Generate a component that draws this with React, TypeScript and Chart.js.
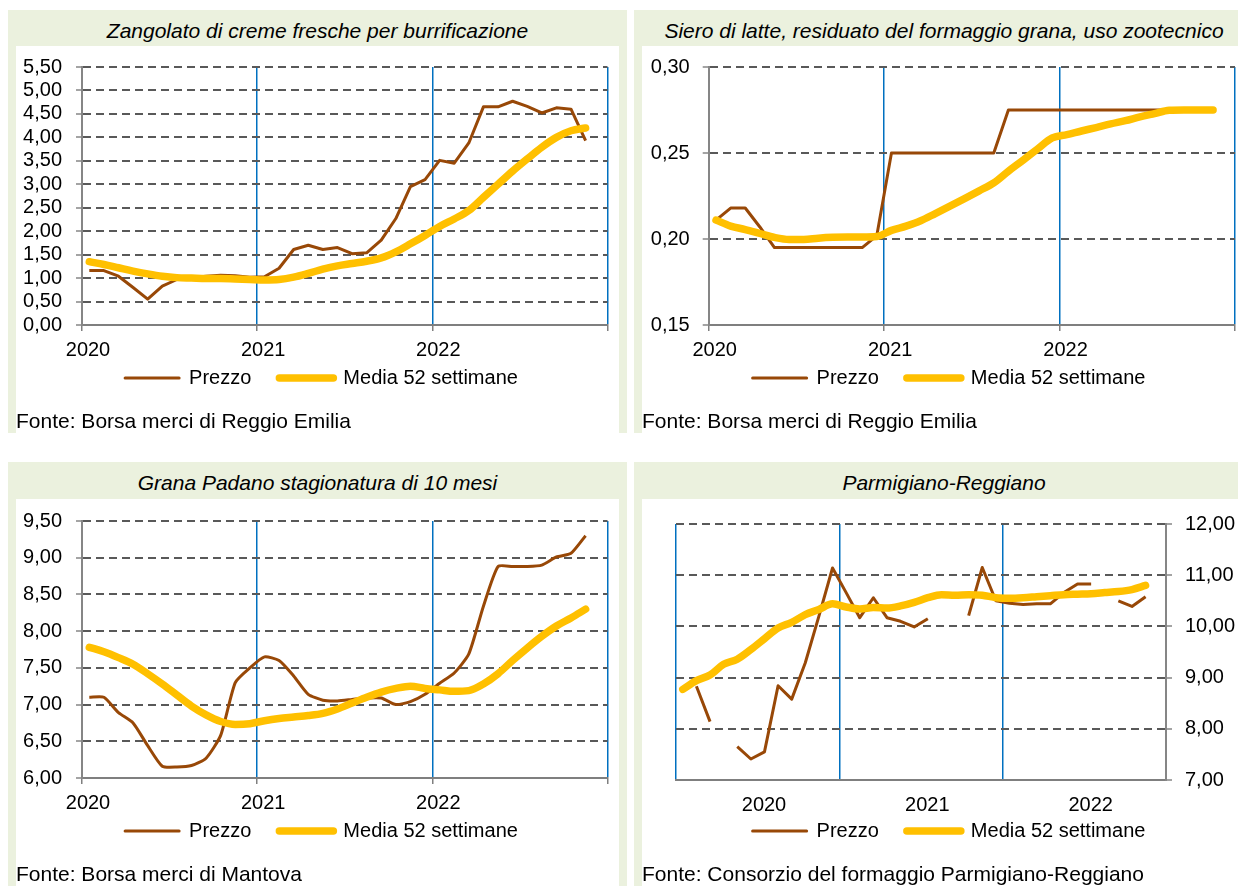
import React, { useEffect, useRef } from 'react';
import { Chart, registerables } from 'chart.js';

Chart.register(...registerables);

const FONT = "'Liberation Sans', Arial, sans-serif";
const BROWN = '#984807';
const YELLOW = '#FFC000';
const BLUE = '#0070C0';
const GRID = '#595959';
const AXIS = '#868686';
const XAXIS = '#7F7F7F';
const PANEL_BG = '#EBF1DE';
const CLEAR = 'rgba(0,0,0,0)';

const MONTHS = [
  '2020-01', '2020-02', '2020-03', '2020-04', '2020-05', '2020-06', '2020-07', '2020-08', '2020-09', '2020-10', '2020-11', '2020-12',
  '2021-01', '2021-02', '2021-03', '2021-04', '2021-05', '2021-06', '2021-07', '2021-08', '2021-09', '2021-10', '2021-11', '2021-12',
  '2022-01', '2022-02', '2022-03', '2022-04', '2022-05', '2022-06', '2022-07', '2022-08', '2022-09', '2022-10', '2022-11',
];
const YEAR_LABELS = ['2020', '2021', '2022'];
const SERIES_LABELS = ['Prezzo', 'Media 52 settimane'];

const ZANGOLATO_PREZZO = [1.16, 1.16, 1.04, 0.80, 0.55, 0.83, 0.97, 1.01, 1.04, 1.06, 1.05, 1.02,
  1.03, 1.21, 1.61, 1.70, 1.61, 1.65, 1.52, 1.54, 1.81, 2.27, 2.95, 3.10,
  3.51, 3.45, 3.88, 4.65, 4.65, 4.77, 4.66, 4.52, 4.63, 4.60, 3.93];
const ZANGOLATO_MEDIA = [1.35, 1.29, 1.22, 1.15, 1.09, 1.04, 1.01, 1.00, 0.99, 0.99, 0.98, 0.97,
  0.96, 0.97, 1.02, 1.10, 1.19, 1.26, 1.31, 1.36, 1.43, 1.56, 1.73, 1.91,
  2.10, 2.26, 2.44, 2.72, 3.00, 3.28, 3.54, 3.79, 4.00, 4.14, 4.20];

const SIERO_PREZZO = [0.211, 0.218, 0.218, 0.207, 0.195, 0.195, 0.195, 0.195, 0.195, 0.195, 0.195, 0.202,
  0.25, 0.25, 0.25, 0.25, 0.25, 0.25, 0.25, 0.25, 0.275, 0.275, 0.275, 0.275,
  0.275, 0.275, 0.275, 0.275, 0.275, 0.275, 0.275, 0.275, 0.275, 0.275, 0.275];
const SIERO_MEDIA = [0.2110, 0.2075, 0.2055, 0.2032, 0.2009, 0.1997, 0.1997, 0.2005, 0.2010, 0.2012, 0.2012, 0.2015,
  0.2050, 0.2075, 0.2106, 0.2148, 0.2191, 0.2235, 0.2280, 0.2326, 0.2394, 0.2458, 0.2524, 0.2588,
  0.2607, 0.2628, 0.2648, 0.2669, 0.2688, 0.2710, 0.2729, 0.2748, 0.2750, 0.2750, 0.2750];

const GRANA_PREZZO = [7.10, 7.10, 6.89, 6.75, 6.44, 6.16, 6.15, 6.17, 6.27, 6.58, 7.30, 7.50,
  7.65, 7.60, 7.39, 7.14, 7.06, 7.05, 7.07, 7.09, 7.09, 7.00, 7.04, 7.14,
  7.29, 7.43, 7.69, 8.34, 8.88, 8.88, 8.88, 8.90, 9.01, 9.06, 9.30];
const GRANA_MEDIA = [7.78, 7.72, 7.64, 7.55, 7.42, 7.28, 7.13, 6.98, 6.86, 6.77, 6.73, 6.74,
  6.78, 6.81, 6.83, 6.85, 6.88, 6.94, 7.02, 7.10, 7.17, 7.22, 7.25, 7.22,
  7.20, 7.18, 7.19, 7.28, 7.42, 7.60, 7.77, 7.93, 8.07, 8.18, 8.30];

const PARMIGIANO_PREZZO = [null, 8.83, 8.14, null, 7.65, 7.41, 7.55, 8.84, 8.58, 9.29, 10.20, 11.14,
  10.66, 10.17, 10.56, 10.17, 10.10, 9.99, 10.15, null, null, 10.21, 11.15, 10.50,
  10.45, 10.43, 10.44, 10.44, 10.66, 10.83, 10.83, null, 10.50, 10.39, 10.58];
const PARMIGIANO_MEDIA = [8.77, 8.94, 9.05, 9.26, 9.36, 9.55, 9.76, 9.97, 10.08, 10.23, 10.33, 10.44,
  10.38, 10.34, 10.37, 10.36, 10.40, 10.47, 10.56, 10.62, 10.61, 10.62, 10.61, 10.56,
  10.55, 10.56, 10.58, 10.60, 10.62, 10.63, 10.64, 10.66, 10.68, 10.72, 10.80];

function monthToX(m: string): number {
  const [y, mo] = m.split('-').map(Number);
  return y + (mo - 0.5) / 12;
}

function toPoints(values: (number | null)[]) {
  return MONTHS.map((m, i) => ({ x: monthToX(m), y: values[i] }));
}

interface Spec {
  prezzo: (number | null)[];
  media: number[];
  prezzoTension: number;
  yMin: number;
  yMax: number;
  yStep: number;
  yPos: 'left' | 'right';
  yWidth: number;
  yPad: number;
  leftDummy: number;
  rightDummy: number;
  padTop: number;
  xHeight: number;
  xPad: number;
  labelOffset: number;
  centerYears: boolean;
  legendShift: number;
  canvasTop: number;
  canvasW: number;
  canvasH: number;
}

function buildConfig(s: Spec): any {
  const font = { size: 20, family: FONT };
  const scales: any = {
    x: {
      type: 'linear',
      min: 2020,
      max: 2023,
      ticks: {
        stepSize: 1,
        autoSkip: false,
        maxRotation: 0,
        minRotation: 0,
        labelOffset: s.labelOffset,
        padding: s.xPad,
        color: '#000',
        font,
        callback: (v: any) => {
          const i = Math.round(Number(v)) - 2020;
          return YEAR_LABELS[i] ?? '';
        },
      },
      grid: {
        color: (c: any) => {
          const v = c.tick ? Math.round(c.tick.value) : 0;
          if (s.centerYears) return v === 2023 ? CLEAR : BLUE;
          return v === 2020 ? CLEAR : BLUE;
        },
        lineWidth: 1.5,
        drawTicks: true,
        tickLength: 6,
        tickColor: s.centerYears ? CLEAR : XAXIS,
        tickWidth: 1.5,
      },
      border: { display: true, color: XAXIS, width: 2 },
      afterFit: (sc: any) => { sc.height = s.xHeight; },
    },
    y: {
      type: 'linear',
      position: s.yPos,
      min: s.yMin,
      max: s.yMax,
      ticks: {
        stepSize: s.yStep,
        autoSkip: false,
        padding: s.yPad,
        color: '#000',
        font,
        callback: (v: any) => Number(v).toFixed(2).replace('.', ','),
      },
      grid: {
        color: (c: any) => (c.tick && Math.abs(c.tick.value - s.yMin) < 1e-9 ? CLEAR : GRID),
        lineWidth: 2,
        drawTicks: true,
        tickLength: 6,
        tickColor: AXIS,
        tickWidth: 1.5,
      },
      border: { display: true, color: AXIS, width: 2, dash: [8, 5] },
      afterFit: (sc: any) => { sc.width = s.yWidth; },
    },
  };
  if (s.leftDummy > 0) {
    scales.yPadL = {
      type: 'linear', position: 'left', display: true,
      grid: { display: false, drawTicks: false }, border: { display: false }, ticks: { display: false },
      afterFit: (sc: any) => { sc.width = s.leftDummy; },
    };
  }
  if (s.rightDummy > 0) {
    scales.yPadR = {
      type: 'linear', position: 'right', display: true,
      grid: { display: false, drawTicks: false }, border: { display: false }, ticks: { display: false },
      afterFit: (sc: any) => { sc.width = s.rightDummy; },
    };
  }

  const legendShiftPlugin = {
    id: 'legendShift',
    afterLayout(chart: any) {
      const lg = chart.legend;
      if (lg) {
        lg.top -= s.legendShift;
        lg.bottom -= s.legendShift;
      }
    },
  };

  return {
    type: 'line',
    data: {
      datasets: [
        {
          label: SERIES_LABELS[0],
          data: toPoints(s.prezzo),
          yAxisID: 'y',
          xAxisID: 'x',
          borderColor: BROWN,
          backgroundColor: BROWN,
          borderWidth: 3,
          pointRadius: 0,
          tension: s.prezzoTension,
          borderJoinStyle: 'round',
          spanGaps: false,
          order: 2,
        },
        {
          label: SERIES_LABELS[1],
          data: toPoints(s.media),
          yAxisID: 'y',
          xAxisID: 'x',
          borderColor: YELLOW,
          backgroundColor: YELLOW,
          borderWidth: 7.5,
          pointRadius: 0,
          cubicInterpolationMode: 'monotone',
          borderCapStyle: 'round',
          borderJoinStyle: 'round',
          order: 1,
        },
      ],
    },
    plugins: [legendShiftPlugin],
    options: {
      responsive: false,
      animation: false,
      events: [],
      layout: { padding: { top: s.padTop, left: 0, right: 0, bottom: 0 } },
      scales,
      plugins: {
        tooltip: { enabled: false },
        title: { display: false },
        legend: {
          position: 'bottom',
          labels: {
            usePointStyle: true,
            pointStyleWidth: 54,
            padding: 28,
            color: '#000',
            font,
            generateLabels: (chart: any) =>
              chart.data.datasets.map((ds: any, i: number) => ({
                text: ds.label,
                strokeStyle: ds.borderColor,
                fillStyle: ds.borderColor,
                fontColor: '#000',
                lineWidth: ds.borderWidth,
                lineCap: 'round',
                pointStyle: 'line',
                hidden: false,
                datasetIndex: i,
              })),
          },
        },
      },
    },
  };
}

function ChartCanvas({ spec, left, top }: { spec: Spec; left: number; top: number }) {
  const ref = useRef<HTMLCanvasElement | null>(null);
  useEffect(() => {
    if (!ref.current) return;
    const chart = new Chart(ref.current, buildConfig(spec));
    return () => chart.destroy();
  }, []);
  return (
    <canvas
      ref={ref}
      width={spec.canvasW}
      height={spec.canvasH}
      style={{ position: 'absolute', left, top, width: spec.canvasW, height: spec.canvasH }}
    />
  );
}

interface PanelProps {
  x: number;
  y: number;
  w: number;
  h: number;
  title: string;
  fonte: string;
  spec: Spec;
}

function Panel({ x, y, w, h, title, fonte, spec }: PanelProps) {
  const bandH = y < 100 ? 36 : 37;
  return (
    <>
      <div style={{ position: 'absolute', left: x, top: y, width: w, height: h, background: PANEL_BG }} />
      <div style={{ position: 'absolute', left: x + 8, top: y + bandH, width: w - 16, height: h - bandH, background: '#fff' }} />
      <div
        style={{
          position: 'absolute', left: x, top: y + 9, width: w, height: 24, lineHeight: '24px',
          textAlign: 'center', fontFamily: FONT, fontStyle: 'italic', fontSize: 21, color: '#000', whiteSpace: 'nowrap',
        }}
      >
        {title}
      </div>
      <ChartCanvas spec={spec} left={x + 8} top={spec.canvasTop} />
      <div
        style={{
          position: 'absolute', left: x + 8, top: y + h - 24, height: 24, lineHeight: '24px',
          fontFamily: FONT, fontSize: 21, color: '#000', whiteSpace: 'nowrap',
        }}
      >
        {fonte}
      </div>
    </>
  );
}

const SPEC_ZANGOLATO: Spec = {
  prezzo: ZANGOLATO_PREZZO, media: ZANGOLATO_MEDIA, prezzoTension: 0,
  yMin: 0, yMax: 5.5, yStep: 0.5, yPos: 'left', yWidth: 66, yPad: 14,
  leftDummy: 0, rightDummy: 19.5, padTop: 26, xHeight: 37, xPad: 7, labelOffset: 6, centerYears: false,
  legendShift: 22, canvasTop: 41, canvasW: 611, canvasH: 379,
};
const SPEC_SIERO: Spec = {
  prezzo: SIERO_PREZZO, media: SIERO_MEDIA, prezzoTension: 0,
  yMin: 0.15, yMax: 0.30, yStep: 0.05, yPos: 'left', yWidth: 66.7, yPad: 13,
  leftDummy: 0, rightDummy: 21, padTop: 25, xHeight: 37, xPad: 7, labelOffset: 6, centerYears: false,
  legendShift: 22, canvasTop: 42, canvasW: 614, canvasH: 378,
};
const SPEC_GRANA: Spec = {
  prezzo: GRANA_PREZZO, media: GRANA_MEDIA, prezzoTension: 0.2,
  yMin: 6, yMax: 9.5, yStep: 0.5, yPos: 'left', yWidth: 66, yPad: 14,
  leftDummy: 0, rightDummy: 19.5, padTop: 26, xHeight: 37, xPad: 7, labelOffset: 6, centerYears: false,
  legendShift: 22, canvasTop: 495, canvasW: 611, canvasH: 378,
};
const SPEC_PARMIGIANO: Spec = {
  prezzo: PARMIGIANO_PREZZO, media: PARMIGIANO_MEDIA, prezzoTension: 0,
  yMin: 7, yMax: 12, yStep: 1, yPos: 'right', yWidth: 90, yPad: 13,
  leftDummy: 34, rightDummy: 0, padTop: 25, xHeight: 37, xPad: 7.5, labelOffset: 88, centerYears: true,
  legendShift: 24, canvasTop: 499, canvasW: 614, canvasH: 376,
};

export default function App() {
  return (
    <div style={{ position: 'absolute', left: 0, top: 0, width: 1238, height: 886, overflow: 'hidden', background: '#fff' }}>
      <Panel x={8} y={10} w={619} h={423} title="Zangolato di creme fresche per burrificazione"
        fonte="Fonte: Borsa merci di Reggio Emilia" spec={SPEC_ZANGOLATO} />
      <Panel x={634} y={10} w={620} h={423} title="Siero di latte, residuato del formaggio grana, uso zootecnico"
        fonte="Fonte: Borsa merci di Reggio Emilia" spec={SPEC_SIERO} />
      <Panel x={8} y={462} w={619} h={424} title="Grana Padano stagionatura di 10 mesi"
        fonte="Fonte: Borsa merci di Mantova" spec={SPEC_GRANA} />
      <Panel x={634} y={462} w={620} h={424} title="Parmigiano-Reggiano"
        fonte="Fonte: Consorzio del formaggio Parmigiano-Reggiano" spec={SPEC_PARMIGIANO} />
    </div>
  );
}
